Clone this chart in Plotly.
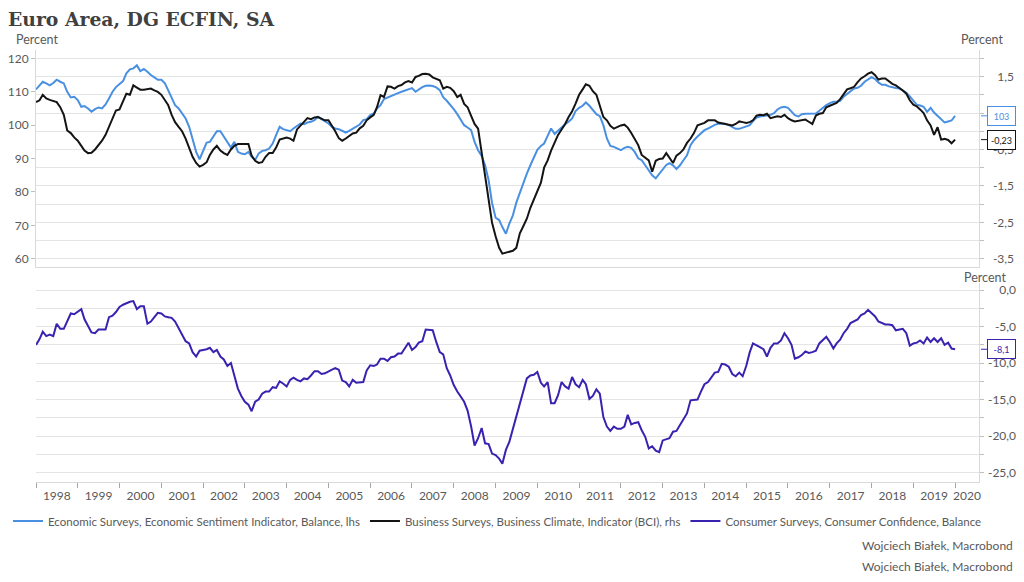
import pandas as pd
import plotly.graph_objects as go

# ---------------- data (monthly, Jan 1998 .. Jan 2020) ----------------
dates = pd.date_range("1998-01-01", "2020-01-01", freq="MS")

esi = [
    110.7, 112.0, 113.0, 112.5, 111.9, 112.6, 113.6, 113.0, 112.5, 110.0, 108.3, 108.5,  # 1998
    107.5, 105.5, 105.7, 105.0, 104.0, 104.8, 105.3, 105.0, 106.2, 108.0, 110.0, 111.4,  # 1999
    112.3, 113.2, 115.5, 116.7, 117.0, 117.9, 116.2, 116.8, 116.0, 115.0, 114.3, 113.6,  # 2000
    113.6, 112.5, 110.5, 108.0, 106.0, 105.0, 103.5, 102.0, 99.5, 96.0, 92.0, 89.8,      # 2001
    92.5, 94.8, 95.0, 96.5, 98.2, 98.2, 96.5, 95.0, 93.3, 95.0, 92.0, 91.5,              # 2002
    91.3, 92.0, 90.5, 89.6, 91.5, 92.3, 92.5, 93.0, 94.5, 97.0, 99.5, 98.8,              # 2003
    98.4, 98.2, 99.0, 99.8, 100.5, 100.3, 100.8, 101.0, 101.5, 102.5, 101.8, 101.0,      # 2004
    100.5, 99.5, 99.0, 98.8, 98.2, 97.8, 98.3, 99.0, 99.7, 100.2, 101.5, 101.8,          # 2005
    103.0, 103.5, 105.0, 106.0, 107.8, 108.3, 108.7, 109.2, 109.6, 110.0, 110.3, 110.8,  # 2006
    111.1, 110.0, 110.8, 111.4, 111.8, 111.9, 111.7, 111.3, 110.5, 108.4, 107.3, 106.2,  # 2007
    104.8, 103.3, 101.5, 100.0, 99.3, 98.5, 95.0, 92.5, 90.8, 88.0, 83.5, 76.7,          # 2008
    72.3, 71.6, 69.5, 67.5, 70.5, 73.0, 76.8, 79.8, 83.0, 85.5, 88.0, 90.5,              # 2009
    92.6, 93.8, 94.5, 96.8, 99.0, 97.4, 98.3, 99.5, 100.3, 101.0, 102.0, 104.2,          # 2010
    105.2, 105.8, 106.8, 105.8, 104.5, 103.3, 102.7, 100.0, 96.0, 93.8, 93.5, 93.0,      # 2011
    92.5, 93.2, 93.5, 93.2, 92.0, 90.1, 89.5, 88.0, 86.6, 85.0, 84.1, 85.3,              # 2012
    86.8, 88.1, 88.6, 88.0, 86.9, 88.0, 89.5, 91.0, 94.0, 95.5, 96.6, 97.6,              # 2013
    98.5, 99.0, 99.6, 100.1, 100.4, 100.5, 100.4, 100.0, 99.5, 98.9, 98.9, 99.2,         # 2014
    99.5, 100.0, 101.2, 102.3, 102.6, 102.7, 102.8, 103.1, 103.6, 104.7, 105.3, 105.5,   # 2015
    105.2, 104.0, 103.0, 102.6, 103.3, 103.4, 103.5, 103.5, 103.5, 104.3, 105.2, 106.0,  # 2016
    106.6, 107.0, 107.0, 107.3, 108.5, 109.4, 110.3, 111.0, 111.2, 111.8, 113.0, 113.8,  # 2017
    114.4, 113.8, 112.8, 112.1, 112.1, 111.6, 111.3, 111.1, 111.0, 110.3, 109.7, 108.6,  # 2018
    107.5, 106.1, 105.9, 105.5, 104.0, 105.2, 103.8, 102.8, 102.0, 100.8, 101.1, 101.4,  # 2019
    102.8,                                                                                # 2020
]

bci = [
    0.80, 0.85, 1.00, 0.90, 0.86, 0.84, 0.80, 0.66, 0.45, 0.02, -0.05, -0.17,        # 1998
    -0.26, -0.40, -0.53, -0.60, -0.59, -0.50, -0.38, -0.26, -0.10, 0.11, 0.35, 0.57, # 1999
    0.60, 0.80, 1.03, 1.00, 1.26, 1.20, 1.14, 1.14, 1.16, 1.17, 1.12, 1.08,          # 2000
    1.00, 0.85, 0.72, 0.45, 0.25, 0.12, 0.00, -0.20, -0.45, -0.70, -0.87, -0.97,     # 2001
    -0.92, -0.85, -0.65, -0.50, -0.40, -0.53, -0.60, -0.65, -0.50, -0.40, -0.35, -0.35,  # 2002
    -0.35, -0.35, -0.67, -0.81, -0.87, -0.85, -0.70, -0.60, -0.60, -0.45, -0.23, -0.20,  # 2003
    -0.17, -0.20, -0.26, 0.05, 0.15, 0.25, 0.36, 0.33, 0.38, 0.39, 0.35, 0.30,       # 2004
    0.30, 0.15, 0.00, -0.19, -0.26, -0.20, -0.12, -0.06, -0.04, 0.08, 0.15, 0.30,    # 2005
    0.38, 0.45, 0.66, 0.99, 0.94, 1.23, 1.22, 1.17, 1.24, 1.27, 1.34, 1.38,          # 2006
    1.34, 1.49, 1.52, 1.57, 1.58, 1.56, 1.48, 1.44, 1.40, 1.17, 1.22, 1.19,          # 2007
    1.10, 0.94, 1.00, 0.75, 0.66, 0.42, 0.20, 0.07, -0.58, -1.31, -1.96, -2.51,      # 2008
    -2.88, -3.20, -3.36, -3.33, -3.30, -3.28, -3.20, -2.80, -2.60, -2.40, -2.10, -1.87,  # 2009
    -1.65, -1.41, -1.00, -0.80, -0.53, -0.30, -0.10, 0.05, 0.20, 0.39, 0.55, 0.76,   # 2010
    1.00, 1.15, 1.29, 1.25, 1.10, 1.00, 0.71, 0.39, 0.30, 0.15, 0.07, 0.12,          # 2011
    0.16, 0.18, 0.10, -0.05, -0.20, -0.38, -0.65, -0.72, -0.80, -1.11, -0.81, -0.76, # 2012
    -0.75, -0.60, -0.72, -0.87, -0.67, -0.60, -0.50, -0.32, -0.20, -0.05, 0.16, 0.20,  # 2013
    0.23, 0.30, 0.30, 0.30, 0.24, 0.22, 0.20, 0.18, 0.16, 0.20, 0.27, 0.25,          # 2014
    0.23, 0.25, 0.30, 0.43, 0.45, 0.44, 0.48, 0.36, 0.38, 0.41, 0.39, 0.45,          # 2015
    0.36, 0.30, 0.27, 0.28, 0.30, 0.32, 0.26, 0.20, 0.43, 0.48, 0.50, 0.66,          # 2016
    0.70, 0.75, 0.78, 0.88, 1.00, 1.15, 1.18, 1.22, 1.35, 1.45, 1.51, 1.58,          # 2017
    1.62, 1.54, 1.42, 1.45, 1.45, 1.38, 1.30, 1.26, 1.20, 1.12, 1.03, 0.85,          # 2018
    0.73, 0.68, 0.60, 0.50, 0.30, 0.16, -0.10, 0.11, -0.23, -0.21, -0.24, -0.33,     # 2019
    -0.23,                                                                            # 2020
]

cci = [
    -7.5, -6.7, -5.7, -6.3, -6.1, -6.3, -4.6, -5.3, -5.3, -4.2, -3.2, -3.3,          # 1998
    -2.9, -2.6, -4.0, -4.9, -5.8, -5.9, -5.4, -5.4, -5.4, -3.7, -3.5, -3.0,          # 1999
    -2.3, -2.0, -1.8, -1.6, -1.5, -2.6, -2.2, -2.2, -4.6, -4.3, -3.7, -3.1,          # 2000
    -3.2, -3.6, -3.7, -3.8, -4.3, -5.2, -6.2, -7.0, -7.3, -8.5, -9.1, -8.3,          # 2001
    -8.2, -8.1, -7.9, -8.5, -8.2, -9.1, -9.5, -10.4, -10.0, -11.7, -13.5, -14.5,     # 2002
    -15.3, -15.7, -16.6, -15.3, -15.0, -14.2, -13.9, -13.9, -13.3, -13.4, -12.5, -12.8,  # 2003
    -13.2, -12.3, -12.0, -12.3, -12.5, -12.1, -12.2, -11.7, -11.1, -11.1, -11.5, -11.4,  # 2004
    -11.2, -10.9, -10.7, -10.9, -12.4, -12.6, -13.2, -12.3, -12.7, -12.6, -12.6, -11.0,  # 2005
    -10.3, -10.4, -10.2, -9.4, -9.4, -9.7, -9.2, -9.1, -8.7, -8.7, -8.0, -7.2,       # 2006
    -8.2, -7.8, -7.2, -7.0, -5.4, -5.5, -5.5, -7.1, -8.5, -8.8, -10.7, -11.7,        # 2007
    -13.0, -13.9, -14.5, -15.3, -16.5, -18.7, -21.3, -20.3, -18.9, -21.0, -21.1, -22.4,  # 2008
    -22.6, -23.1, -23.8, -21.9, -20.8, -19.0, -17.1, -15.5, -13.5, -12.1, -11.7, -11.6,  # 2009
    -11.2, -12.7, -13.2, -12.6, -15.5, -15.5, -14.4, -12.6, -13.2, -13.5, -11.9, -12.9,  # 2010
    -13.3, -12.3, -12.9, -14.9, -14.5, -13.6, -14.2, -17.4, -18.7, -19.3, -18.7, -19.0,  # 2011
    -19.0, -18.7, -17.1, -18.4, -18.2, -18.1, -19.2, -20.1, -21.7, -21.4, -22.0, -22.2,  # 2012
    -20.6, -20.4, -20.3, -19.4, -19.3, -18.5, -17.8, -16.9, -15.1, -15.0, -15.0, -13.9,  # 2013
    -12.9, -12.6, -12.0, -11.3, -11.2, -10.1, -10.2, -10.5, -11.5, -11.8, -11.3, -11.8,  # 2014
    -10.4, -8.5, -7.3, -7.5, -7.8, -8.1, -9.1, -7.9, -7.3, -7.3, -6.9, -5.9,         # 2015
    -6.6, -7.5, -9.4, -9.2, -8.9, -8.4, -8.6, -8.5, -8.3, -7.3, -6.9, -6.4,          # 2016
    -7.1, -8.0, -7.3, -6.8, -5.9, -5.3, -4.5, -4.3, -4.0, -3.4, -3.2, -2.7,          # 2017
    -3.2, -3.6, -4.3, -4.5, -4.7, -4.7, -4.8, -5.5, -5.4, -5.3, -5.9, -7.6,          # 2018
    -7.3, -7.2, -6.9, -7.3, -6.5, -7.1, -6.6, -7.1, -6.6, -7.5, -7.2, -8.0,          # 2019
    -8.1,                                                                             # 2020
]

names = [
    "Economic Surveys, Economic Sentiment Indicator, Balance, lhs",
    "Business Surveys, Business Climate, Indicator (BCI), rhs",
    "Consumer Surveys, Consumer Confidence, Balance",
]
colors = ["#4a90e2", "#141414", "#3a22b0"]

years = list(range(1998, 2021))
esi_ticks = [60, 70, 80, 90, 100, 110, 120]
bci_grid = [-3.5, -3.0, -2.5, -2.0, -1.5, -1.0, -0.5, 0.0, 0.5, 1.0, 1.5, 2.0]
bci_labels = [-3.5, -2.5, -1.5, -0.5, 0.5, 1.5]
cci_grid = [-25.0, -22.5, -20.0, -17.5, -15.0, -12.5, -10.0, -7.5, -5.0, -2.5, 0.0]
cci_labels = [-25.0, -20.0, -15.0, -10.0, -5.0, 0.0]

title_text = "Euro Area, DG ECFIN, SA"
source_text = "Wojciech Białek, Macrobond"

# ---------------- helpers ----------------
def comma(v, nd=1):
    return f"{v:.{nd}f}".replace(".", ",")

OFF = 8                      # page body margin (figure is drawn at 8,8)
W, H = 1024 - 2 * OFF, 582 - 2 * OFF
ML, MR, MT = 28, 0, 42
MB = H - (481.7 - OFF)
PW, PH = W - ML - MR, H - MT - MB

def px_x(px):  # screen pixel -> paper x
    return min(1.0, (px - OFF - ML) / PW)

def px_y(py):  # screen pixel -> paper y
    return (H - MB - (py - OFF)) / PH

x_dom = [0, px_x(979)]
x_range = ["1998-01-01", "2020-07-28"]
year_starts = [f"{y}-01-01" for y in years]
label_pos = [f"{y}-07-02" for y in years[:-1]] + ["2020-04-14"]

font_family = "Lato, 'Open Sans', sans-serif"
grey = "#595959"
grid = "#e4e4e4"
axis_line = "#d9d9d9"
tick_c = "#bfbfbf"

fig = go.Figure()
fig.add_trace(go.Scatter(x=dates, y=esi, name=names[0], mode="lines",
                         line=dict(color=colors[0], width=2), xaxis="x", yaxis="y"))
fig.add_trace(go.Scatter(x=dates, y=bci, name=names[1], mode="lines",
                         line=dict(color=colors[1], width=2), xaxis="x", yaxis="y2"))
fig.add_trace(go.Scatter(x=dates, y=cci, name=names[2], mode="lines",
                         line=dict(color=colors[2], width=2), xaxis="x2", yaxis="y4"))
# invisible copies so the right-hand label axes get drawn
fig.add_trace(go.Scatter(x=dates, y=bci, mode="lines", opacity=0, showlegend=False,
                         hoverinfo="skip", line=dict(width=0.1), xaxis="x", yaxis="y3"))
fig.add_trace(go.Scatter(x=dates, y=cci, mode="lines", opacity=0, showlegend=False,
                         hoverinfo="skip", line=dict(width=0.1), xaxis="x2", yaxis="y5"))

top_dom = [px_y(267), 1]
bot_dom = [0, px_y(283)]
bci_range = [-3.73, 2.23]
esi_range = [57.5, 122.5]
cci_range = [-26.3, 0.96]
tickfont = dict(family=font_family, size=12, color=grey)

fig.update_layout(
    width=W, height=H,
    margin=dict(l=ML, r=MR, t=MT, b=MB, autoexpand=False),
    paper_bgcolor="white", plot_bgcolor="white",
    font=dict(family=font_family, color=grey, size=12),
    title=dict(text=f"<b>{title_text}</b>", x=0, xanchor="left", xref="container",
               y=1 - (19 - OFF) / H, yanchor="middle", yref="container",
               font=dict(family="DejaVu Serif", size=18.8, color="#404040")),
    showlegend=True,
    legend=dict(orientation="h", xref="container", yref="container",
                x=0, xanchor="left", y=1 - (521 - OFF) / H, yanchor="middle",
                font=dict(family=font_family, size=11.5, color=grey),
                itemwidth=30, tracegroupgap=0, bgcolor="rgba(0,0,0,0)"),
    xaxis=dict(domain=x_dom, anchor="y", type="date", range=x_range,
               showline=True, linecolor=axis_line, linewidth=1, ticks="",
               showticklabels=False, showgrid=False, zeroline=False),
    xaxis2=dict(domain=x_dom, anchor="y4", type="date", range=x_range,
                showline=True, linecolor=axis_line, linewidth=1,
                tickmode="array", tickvals=label_pos, ticktext=[str(y) for y in years],
                ticks="", ticklabelstandoff=3, showgrid=False, zeroline=False,
                tickfont=tickfont,
                minor=dict(tickmode="array", tickvals=year_starts, ticks="outside",
                           ticklen=5, tickcolor="#a6a6a6", tickwidth=1, showgrid=False)),
    yaxis=dict(domain=top_dom, anchor="x", side="left", range=esi_range,
               tickmode="array", tickvals=esi_ticks, ticktext=[str(v) for v in esi_ticks],
               ticks="outside", ticklen=4, tickcolor=tick_c,
               showline=True, linecolor=axis_line, showgrid=False, zeroline=False,
               tickfont=tickfont),
    yaxis2=dict(overlaying="y", anchor="x", side="right", range=bci_range,
                tickmode="array", tickvals=bci_grid, showticklabels=False,
                ticks="outside", ticklen=4, tickcolor=tick_c,
                showline=True, linecolor=axis_line, showgrid=True, gridcolor=grid,
                zeroline=False),
    yaxis3=dict(overlaying="y", anchor="free", position=px_x(1014), side="left",
                range=bci_range, tickmode="array", tickvals=bci_labels,
                ticktext=[comma(v) for v in bci_labels], ticks="",
                showline=False, showgrid=False, zeroline=False, tickfont=tickfont,
                ticklabeloverflow="allow"),
    yaxis4=dict(domain=bot_dom, anchor="x2", side="right", range=cci_range,
                tickmode="array", tickvals=cci_grid, showticklabels=False,
                ticks="outside", ticklen=4, tickcolor=tick_c,
                showline=True, linecolor=axis_line, showgrid=True, gridcolor=grid,
                zeroline=False),
    yaxis5=dict(overlaying="y4", anchor="free", position=px_x(1018), side="left",
                range=cci_range, tickmode="array", tickvals=cci_labels,
                ticktext=[comma(v) for v in cci_labels], ticks="",
                showline=False, showgrid=False, zeroline=False, tickfont=tickfont,
                ticklabeloverflow="allow"),
)

ann = []
pfont = dict(family=font_family, size=12.5, color=grey)
ann.append(dict(text="Percent", xref="paper", yref="paper", x=(14 - OFF - ML) / PW, y=px_y(40),
                xanchor="left", yanchor="middle", showarrow=False, font=pfont))
ann.append(dict(text="Percent", xref="paper", yref="paper", x=px_x(1005), y=px_y(40),
                xanchor="right", yanchor="middle", showarrow=False, font=pfont))
ann.append(dict(text="Percent", xref="paper", yref="paper", x=px_x(1008), y=px_y(277),
                xanchor="right", yanchor="middle", showarrow=False, font=pfont))

# end-value callouts
tip_x = px_x(981)
for val, txt, yref, col in [
    (esi[-1], f"{esi[-1]:.0f}", "y", colors[0]),
    (bci[-1], comma(bci[-1], 2), "y2", colors[1]),
    (cci[-1], comma(cci[-1], 1), "y4", colors[2]),
]:
    ann.append(dict(text=txt, xref="paper", yref=yref, x=tip_x, y=val,
                    showarrow=True, arrowhead=0, arrowwidth=1, arrowcolor=col,
                    ax=20, ay=0, standoff=0,
                    font=dict(family=font_family, size=9, color=col),
                    bordercolor=col, borderwidth=1, borderpad=2, bgcolor="white",
                    width=23, height=14, align="center"))

for py in (545, 566):
    ann.append(dict(text=source_text, xref="paper", yref="paper", x=px_x(1015), y=px_y(py),
                    xanchor="right", yanchor="middle", showarrow=False,
                    font=dict(family=font_family, size=12, color=grey)))

fig.update_layout(annotations=ann)
fig.write_html("out.html")
